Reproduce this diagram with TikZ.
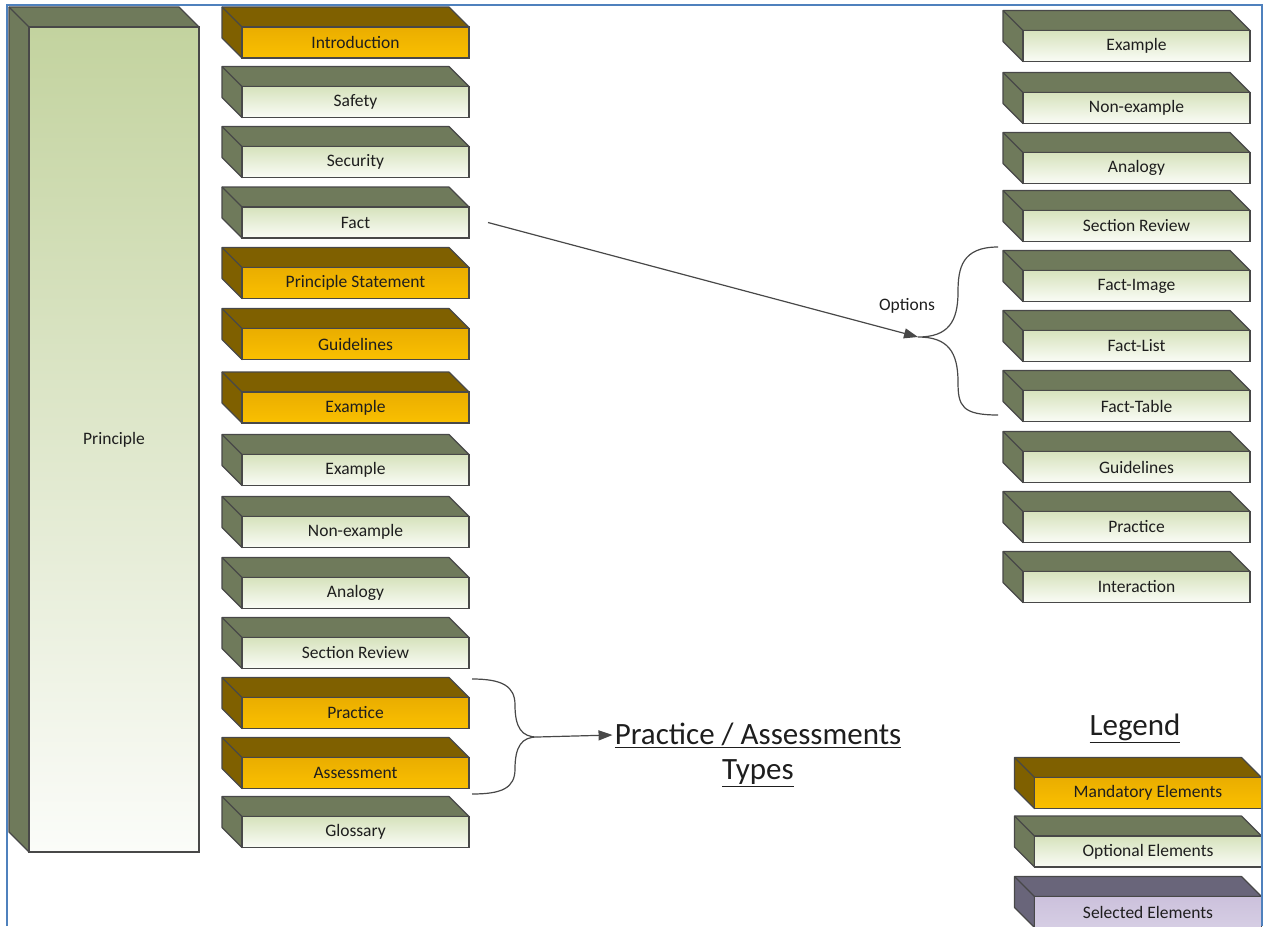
\documentclass[tikz,border=0pt]{standalone}
\usepackage{fontspec}
\setmainfont{Carlito}
\usetikzlibrary{arrows.meta, backgrounds, positioning}

\definecolor{mandside}{RGB}{127, 96, 0}
\definecolor{mandtop}{RGB}{234, 173, 0}
\definecolor{mandbot}{RGB}{250, 192, 0}
\definecolor{optside}{RGB}{111, 122, 91}
\definecolor{opttop}{RGB}{214, 226, 188}
\definecolor{optbot}{RGB}{250, 252, 246}
\definecolor{selside}{RGB}{105, 101, 122}
\definecolor{seltop}{RGB}{204, 193, 220}
\definecolor{selbot}{RGB}{214, 206, 228}
\definecolor{edgegray}{RGB}{72, 72, 72}
\definecolor{textgray}{RGB}{30, 30, 30}
\definecolor{framecolor}{RGB}{79, 129, 189}

% front face as node, top and left faces drawn behind it
\newcommand{\elem}[4]{%
  \node[#1] (#2) at (#3) {#4};
  \begin{scope}[on background layer]
    \filldraw[#1 side] (#2.south west) -- ++(-20,-20) |- ([shift={(-20,-20)}]#2.north east)
      -- (#2.north east) -- (#2.north west) -- cycle;
    \draw[#1 side] (#2.north west) -- ++(-20,-20);
  \end{scope}}

\begin{document}
\begin{tikzpicture}[
  x=1pt, y=-1pt,
  box/.style = {
    rectangle,
    draw = edgegray,
    line width = 1.2pt,
    minimum width = 227pt,
    minimum height = 31pt,
    inner sep = 0pt,
    outer sep = 0pt,
    text = textgray,
    font = \fontsize{17.5}{20}\selectfont
  },
  mandatory/.style = {box, top color = mandtop, bottom color = mandbot},
  optional/.style = {box, top color = opttop, bottom color = optbot},
  selected/.style = {box, top color = seltop, bottom color = selbot},
  principle/.style = {box, minimum width = 170pt, minimum height = 825pt,
    top color = {rgb,255:red,195;green,211;blue,159}, bottom color = {rgb,255:red,251;green,252;blue,249}},
  mandatory side/.style = {draw = edgegray, fill = mandside, line width = 1.2pt, line join = round},
  optional side/.style = {draw = edgegray, fill = optside, line width = 1.2pt, line join = round},
  selected side/.style = {draw = edgegray, fill = selside, line width = 1.2pt, line join = round},
  principle side/.style = {optional side},
  conn/.style = {draw = edgegray, line width = 1.2pt},
  arrow/.style = {-{Triangle[length=14, width=10]}},
  title/.style = {text = textgray, font = \fontsize{31}{36}\selectfont, inner sep = 2pt},
  frame/.style = {draw = framecolor, line width = 1.6pt}
]
\useasboundingbox (0,0) rectangle (1265,926);

% Principle column
\elem{principle}{principle}{114,439.5}{Principle};

% Lesson elements
\foreach \name/\kind/\y/\txt in {
    intro/mandatory/42.5/Introduction,
    safety/optional/102/Safety,
    security/optional/162/Security,
    fact/optional/222.5/Fact,
    pstate/mandatory/283/Principle Statement,
    guide/mandatory/344/Guidelines,
    exmand/mandatory/407.5/Example,
    example/optional/470/Example,
    nonex/optional/532/Non-example,
    analogy/optional/593/Analogy,
    review/optional/653/Section Review,
    practice/mandatory/713/Practice,
    assess/mandatory/773/Assessment,
    gloss/optional/832/Glossary}
  \elem{\kind}{\name}{355.5,\y}{\txt};

% Fact options
\foreach \name/\y/\txt in {
    rexample/46/Example,
    rnonex/108/Non-example,
    ranalogy/168/Analogy,
    rreview/226/Section Review,
    factimg/286/Fact-Image,
    factlist/346/Fact-List,
    facttab/406/Fact-Table,
    rguide/467/Guidelines,
    rpractice/527/Practice,
    interact/587/Interaction}
  \elem{optional}{\name}{1136.5,\y}{\txt};

% Legend
\node[title] (legend) at (1135,728) {\underline{Legend}};
\elem{mandatory}{legmand}{1148,793}{Mandatory Elements};
\elem{optional}{legopt}{1148,851.5}{Optional Elements};
\elem{selected}{legsel}{1148,912}{Selected Elements};

% Options brace
\coordinate (optfork) at (918,337);
\coordinate (opttop) at (998,247);
\coordinate (optbot) at (998,415);
\draw[conn, arrow] ([xshift=19]fact.east) -- (optfork);
\node[text = textgray, font = \fontsize{17.5}{20}\selectfont] (optlabel) at (907,306) {Options};
\draw[conn] (opttop) .. controls (962,247) and (958,268) .. (958,292)
  .. controls (958,322) and (948,337) .. (optfork)
  .. controls (948,337) and (958,352) .. (958,382)
  .. controls (958,406) and (962,415) .. (optbot);

% Practice / assessment brace
\node[title] (pa) at (758,735) {\underline{Practice / Assessments}};
\node[title] (types) at (758,773) {\underline{Types}};
\coordinate (pafork) at (537,737);
\coordinate (patop) at (472,679);
\coordinate (pabot) at (472,794);
\draw[conn] (patop) .. controls (502,679) and (515,686) .. (515,705)
  .. controls (515,728) and (522,737) .. (pafork)
  .. controls (522,737) and (515,746) .. (515,769)
  .. controls (515,788) and (502,794) .. (pabot);
\draw[conn, arrow] (pafork) -- (pa.west);

% Page frame
\draw[frame] (7,926) -- (7,5) -- (1262,5) -- (1262,926);

\end{tikzpicture}
\end{document}
